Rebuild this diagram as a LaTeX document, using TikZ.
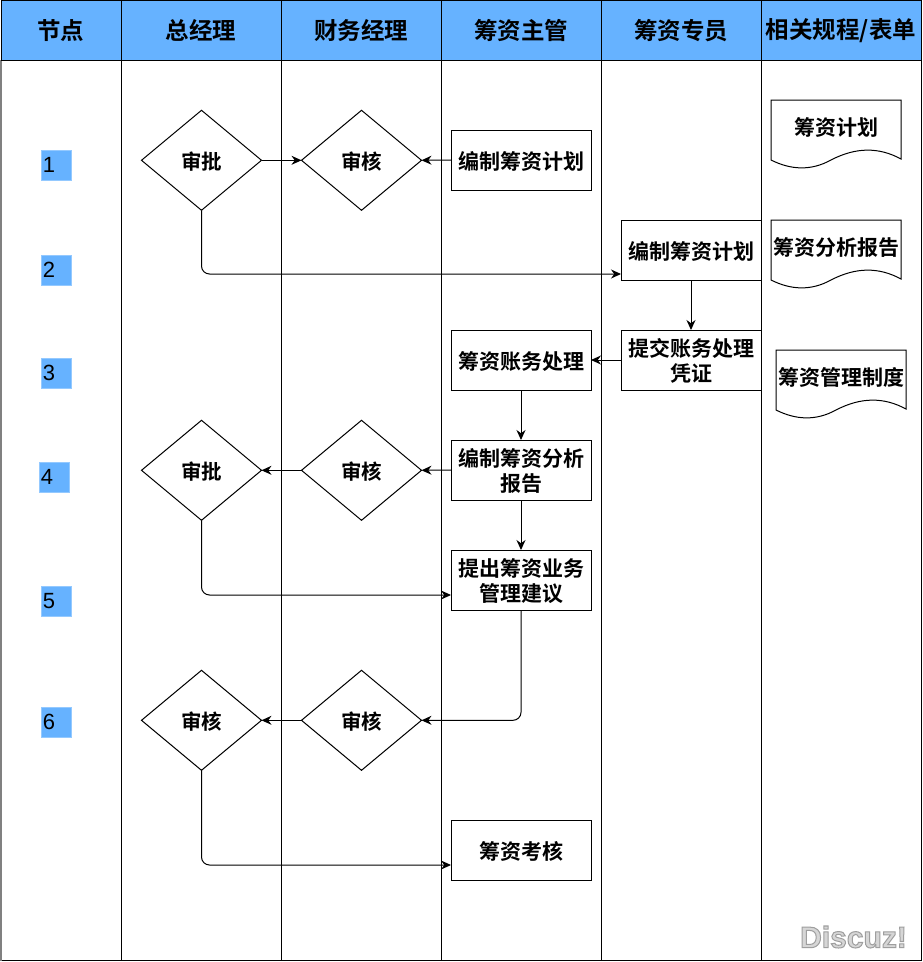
\documentclass[tikz,border=0pt]{standalone}
\usepackage{fontspec}
\setmainfont{Noto Sans CJK SC}[BoldFont={Noto Sans CJK SC Bold}]
\newfontfamily\numfont{Liberation Sans}
\newfontfamily\markfont{Liberation Sans}[BoldFont={Liberation Sans Bold}]
\usetikzlibrary{shapes.geometric,arrows.meta,calc}
\definecolor{headblue}{HTML}{66B2FF}
\tikzset{
  base/.style={inner sep=0pt,outer sep=0pt,line width=1pt,align=center},
  head/.style={base,draw=black,fill=headblue,minimum width=160pt,minimum height=60pt,font=\fontsize{23.5}{27}\selectfont\bfseries},
  lane/.style={base,draw=black,minimum width=160pt,minimum height=900pt},
  procbox/.style={base,draw=black,fill=white,minimum width=140pt,minimum height=60pt,font=\fontsize{21}{25}\selectfont\bfseries,text depth=-2.5pt},
  gate/.style={base,draw=black,fill=white,shape=diamond,aspect=1.2,minimum width=120pt,minimum height=100pt,font=\fontsize{20.5}{24}\selectfont\bfseries,text depth=-1.5pt},
  docbox/.style={base,minimum width=130pt,minimum height=54pt,font=\fontsize{21}{25}\selectfont\bfseries},
  nodenum/.style={base,fill=headblue,draw=headblue!70!white,minimum width=30pt,minimum height=30pt,font=\fontsize{22}{26}\numfont,text depth=-2pt},
  flow/.style={line width=1pt,-{Stealth[length=10pt,width=9pt]}},
  elbow/.style={flow,rounded corners=8pt},
}
\newcommand{\docwave}[1]{\draw[line width=1pt,shift={(#1.north west)}] (0,0) -- (130,0) -- (130,59)
  .. controls (108,47) and (85,47) .. (60,60) .. controls (40,71) and (20,70) .. (0,60) -- cycle;}
\begin{document}
\begin{tikzpicture}[x=1pt,y=-1pt]
\useasboundingbox (0,0) rectangle (923,962);
\fill[white] (0,0) rectangle (923,962);
% lanes
\node[lane,minimum width=120pt] (l0) at (61,510) {};
\node[lane] (l1) at (201,510) {};
\node[lane] (l2) at (361,510) {};
\node[lane] (l3) at (521,510) {};
\node[lane] (l4) at (681,510) {};
\node[lane] (l5) at (841,510) {};
\fill[black!50] (0,60) rectangle (2,961);
% headers
\node[head,minimum width=120pt] (h0) at (61,30.5) {节点};
\node[head] (h1) at (201,30.5) {总经理};
\node[head] (h2) at (361,30.5) {财务经理};
\node[head] (h3) at (521,30.5) {筹资主管};
\node[head] (h4) at (681,30.5) {筹资专员};
\node[head] (h5) at (841,30.5) {相关规程/表单};
% node numbers
\node[nodenum] (n1) at (56,165) {\hspace*{-14pt}1};
\node[nodenum] (n2) at (56,270) {\hspace*{-14pt}2};
\node[nodenum] (n3) at (56,373) {\hspace*{-14pt}3};
\node[nodenum] (n4) at (54,477) {\hspace*{-14pt}4};
\node[nodenum] (n5) at (56,601) {\hspace*{-14pt}5};
\node[nodenum] (n6) at (56,722) {\hspace*{-14pt}6};
% gates
\node[gate] (g1a) at (201.5,160.3) {审批};
\node[gate] (g1b) at (361.5,160.3) {审核};
\node[gate] (g2a) at (201.5,470.3) {审批};
\node[gate] (g2b) at (361.5,470.3) {审核};
\node[gate] (g3a) at (201.5,720.3) {审核};
\node[gate] (g3b) at (361.5,720.3) {审核};
% boxes
\node[procbox] (b1) at (521,160) {编制筹资计划};
\node[procbox] (b2) at (691,250) {编制筹资计划};
\node[procbox] (b3) at (691,360) {提交账务处理\\凭证};
\node[procbox] (b4) at (521,360) {筹资账务处理};
\node[procbox] (b5) at (521,470) {编制筹资分析\\报告};
\node[procbox] (b6) at (521,580) {提出筹资业务\\管理建议};
\node[procbox] (b7) at (521,850) {筹资考核};
% documents
\node[docbox] (d1) at (836,127) {筹资计划};
\node[docbox] (d2) at (836,247) {筹资分析报告};
\node[docbox] (d3) at (841,377) {筹资管理制度};
\docwave{d1}
\docwave{d2}
\docwave{d3}
% connectors
\draw[flow] (g1a.east) -- (g1b.west);
\draw[flow] (b1.west) -- (g1b.east);
\draw[elbow] (g1a.south) |- ($(b2.south west)+(0,-6)$);
\draw[flow] (b2.south) -- (b3.north);
\draw[flow] (b3.west) -- (b4.east);
\draw[flow] (b4.south) -- (b5.north);
\draw[flow] (b5.west) -- (g2b.east);
\draw[flow] (g2b.west) -- (g2a.east);
\draw[flow] (b5.south) -- (b6.north);
\draw[elbow] (g2a.south) |- ($(b6.south west)+(0,-15)$);
\draw[elbow] (b6.south) |- (g3b.east);
\draw[flow] (g3b.west) -- (g3a.east);
\draw[elbow] (g3a.south) |- ($(b7.south west)+(0,-15)$);
% watermark
\node[base,font=\fontsize{30}{34}\markfont\bfseries] (wm) at (853.5,937) {\special{pdf:code q 0.62 G 0.84 g 2 Tr 1 w}Discuz!\special{pdf:code 0 Tr Q}};
\end{tikzpicture}
\end{document}
